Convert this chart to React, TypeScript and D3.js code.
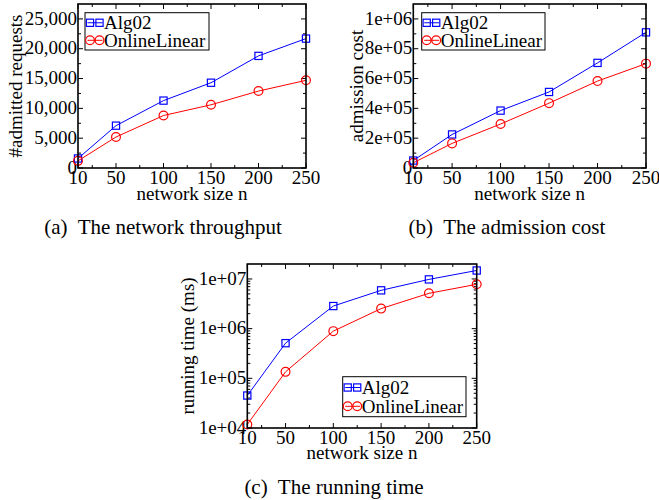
import React from 'react';
import * as d3 from 'd3';

const sizes = [10, 50, 100, 150, 200, 250];
const sizeMinor = [25, 75, 125, 175, 225];
const seriesNames = ['Alg02', 'OnlineLinear'];

const throughputAlg02 = [1600, 7100, 11300, 14300, 18800, 21700];
const throughputOnline = [1200, 5200, 8800, 10600, 12900, 14700];
const throughputTicks = [0, 5000, 10000, 15000, 20000, 25000];

const costAlg02 = [50000, 225000, 385000, 510000, 705000, 910000];
const costOnline = [35000, 165000, 295000, 435000, 583000, 700000];
const costTicks = [0, 200000, 400000, 600000, 800000, 1000000];
const costTickLabels = ['0', '2e+05', '4e+05', '6e+05', '8e+05', '1e+06'];

const timeAlg02 = [45000, 510000, 2850000, 5900000, 9800000, 14800000];
const timeOnline = [11800, 135000, 890000, 2530000, 5140000, 7800000];
const timeTicks = [1e4, 1e5, 1e6, 1e7];
const timeTickLabels = ['1e+04', '1e+05', '1e+06', '1e+07'];

const FONT = "'Liberation Serif', 'DejaVu Serif', serif";
const BLUE = '#0000ff';
const RED = '#ff0000';

type PanelProps = {
  x0: number; x1: number; y0: number; y1: number;
  y: any;
  yTicks: number[];
  yMinor: number[];
  yLabels: string[];
  a: number[]; b: number[];
  yTitle: string; yTitleX: number;
  caption: string; captionX: number; captionY: number;
  legend: { x: number; y: number; w: number; h: number };
  tickBase: number; titleBase: number;
};

const Square = ({ cx, cy }: { cx: number; cy: number }) => (
  <rect x={cx - 3.6} y={cy - 3.6} width={7.2} height={7.2} fill="none" stroke={BLUE} strokeWidth={1.2} />
);
const Circle = ({ cx, cy }: { cx: number; cy: number }) => (
  <circle cx={cx} cy={cy} r={4.4} fill="none" stroke={RED} strokeWidth={1.2} />
);

function Panel(p: PanelProps) {
  const x = d3.scaleLinear().domain([10, 250]).range([p.x0, p.x1]);
  const line = d3.line<number>().x((_, i) => x(sizes[i])).y(d => p.y(d));
  const L = p.legend;
  const r1 = L.y + L.h * 0.27;
  const r2 = L.y + L.h * 0.74;
  return (
    <g style={{ fontFamily: FONT }} fill="#000">
      {/* ticks, mirrored inward on every side */}
      {sizes.map(v => (
        <g key={'xt' + v}>
          <line x1={x(v)} x2={x(v)} y1={p.y1} y2={p.y1 - 5} stroke="#000" />
          <line x1={x(v)} x2={x(v)} y1={p.y0} y2={p.y0 + 5} stroke="#000" />
          <text x={x(v)} y={p.tickBase} fontSize={19} textAnchor="middle">{v}</text>
        </g>
      ))}
      {sizeMinor.map(v => (
        <g key={'xm' + v}>
          <line x1={x(v)} x2={x(v)} y1={p.y1} y2={p.y1 - 3} stroke="#000" />
          <line x1={x(v)} x2={x(v)} y1={p.y0} y2={p.y0 + 3} stroke="#000" />
        </g>
      ))}
      {p.yTicks.map((v, i) => (
        <g key={'yt' + v}>
          <line x1={p.x0} x2={p.x0 + 5} y1={p.y(v)} y2={p.y(v)} stroke="#000" />
          <line x1={p.x1} x2={p.x1 - 5} y1={p.y(v)} y2={p.y(v)} stroke="#000" />
          <text x={p.x0 - 1} y={p.y(v)} dy="0.3em" fontSize={19} textAnchor="end">{p.yLabels[i]}</text>
        </g>
      ))}
      {p.yMinor.map(v => (
        <g key={'ym' + v}>
          <line x1={p.x0} x2={p.x0 + 3} y1={p.y(v)} y2={p.y(v)} stroke="#000" />
          <line x1={p.x1} x2={p.x1 - 3} y1={p.y(v)} y2={p.y(v)} stroke="#000" />
        </g>
      ))}
      <path d={line(p.a) || ''} fill="none" stroke={BLUE} strokeWidth={1} />
      <path d={line(p.b) || ''} fill="none" stroke={RED} strokeWidth={1} />
      {p.a.map((v, i) => <Square key={'a' + i} cx={x(sizes[i])} cy={p.y(v)} />)}
      {p.b.map((v, i) => <Circle key={'b' + i} cx={x(sizes[i])} cy={p.y(v)} />)}
      <rect x={p.x0} y={p.y0} width={p.x1 - p.x0} height={p.y1 - p.y0} fill="none" stroke="#000" strokeWidth={1.6} />

      <text x={(p.x0 + p.x1) / 2} y={p.titleBase} fontSize={19} textAnchor="middle">network size n</text>
      <text transform={`translate(${p.yTitleX},${(p.y0 + p.y1) / 2}) rotate(-90)`} dy="0.32em" fontSize={19} textAnchor="middle">{p.yTitle}</text>

      <rect x={L.x} y={L.y} width={L.w} height={L.h} fill="#fff" stroke="#000" strokeWidth={1} />
      <line x1={L.x + 2.5} x2={L.x + 17.5} y1={r1} y2={r1} stroke={BLUE} />
      <Square cx={L.x + 5} cy={r1} />
      <Square cx={L.x + 14.5} cy={r1} />
      <text x={L.x + 19} y={r1} dy="0.34em" fontSize={19}>{seriesNames[0]}</text>
      <line x1={L.x + 2.5} x2={L.x + 17.5} y1={r2} y2={r2} stroke={RED} />
      <Circle cx={L.x + 5} cy={r2} />
      <Circle cx={L.x + 14.5} cy={r2} />
      <text x={L.x + 19} y={r2} dy="0.34em" fontSize={19}>{seriesNames[1]}</text>

      <text x={p.captionX} y={p.captionY} fontSize={21} textAnchor="middle" style={{ whiteSpace: 'pre' }}>{p.caption}</text>
    </g>
  );
}

export default function App() {
  const yA = d3.scaleLinear().domain([0, 27500]).range([168, 4]);
  const yB = d3.scaleLinear().domain([0, 1100000]).range([168, 4]);
  const yC = d3.scaleLog().domain([1e4, 2e7]).range([428, 264]);
  const minorA = d3.range(2500, 27500, 5000);
  const minorB = d3.range(100000, 1100000, 200000);
  const minorC: number[] = [];
  [1e4, 1e5, 1e6, 1e7].forEach(d => {
    for (let k = 2; k <= 9; k++) if (d * k < 2e7) minorC.push(d * k);
  });

  return (
    <svg width={659} height={500} style={{ position: 'absolute', left: 0, top: 0, background: '#fff' }}>
      <rect width={659} height={500} fill="#fff" />
      <Panel x0={78} x1={306} y0={4} y1={168} y={yA}
        yTicks={throughputTicks} yMinor={minorA} yLabels={throughputTicks.map(d3.format(','))}
        a={throughputAlg02} b={throughputOnline}
        yTitle="#admitted requests" yTitleX={16}
        caption="(a)  The network throughput" captionX={163} captionY={233.5}
        legend={{ x: 85, y: 12.7, w: 124, h: 37.3 }} tickBase={184} titleBase={200} />
      <Panel x0={413.3} x1={646} y0={4} y1={168} y={yB}
        yTicks={costTicks} yMinor={minorB} yLabels={costTickLabels}
        a={costAlg02} b={costOnline}
        yTitle="admission cost" yTitleX={357}
        caption="(b)  The admission cost" captionX={507} captionY={233.5}
        legend={{ x: 421.7, y: 12.7, w: 123.3, h: 37.3 }} tickBase={184} titleBase={200} />
      <Panel x0={247.3} x1={476.7} y0={264} y1={428} y={yC}
        yTicks={timeTicks} yMinor={minorC} yLabels={timeTickLabels}
        a={timeAlg02} b={timeOnline}
        yTitle="running time (ms)" yTitleX={188}
        caption="(c)  The running time" captionX={334} captionY={494}
        legend={{ x: 342.7, y: 376.7, w: 123.3, h: 40 }} tickBase={444} titleBase={459} />
    </svg>
  );
}
